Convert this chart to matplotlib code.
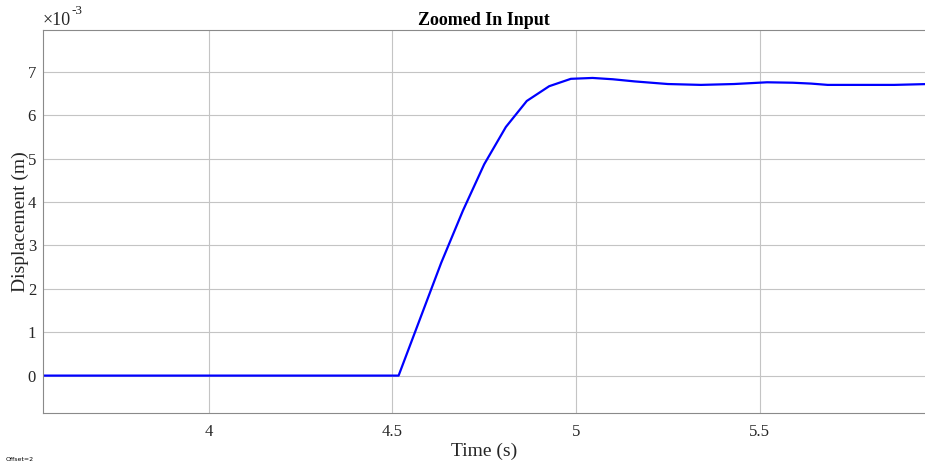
import matplotlib
matplotlib.use("Agg")
import matplotlib.pyplot as plt

time_s = [3.50, 4.517, 4.575, 4.633, 4.692, 4.750, 4.809, 4.866, 4.927, 4.986,
          5.045, 5.10, 5.16, 5.25, 5.34, 5.43, 5.52, 5.59, 5.64, 5.685,
          5.775, 5.866, 5.96]
disp_e3 = [0.0, 0.0, 1.3, 2.6, 3.8, 4.87, 5.73, 6.33, 6.67, 6.84,
           6.86, 6.83, 6.78, 6.72, 6.70, 6.72, 6.76, 6.75, 6.73, 6.70,
           6.70, 6.70, 6.72]
xticks = [4, 4.5, 5, 5.5]
xtick_labels = ["4", "4.5", "5", "5.5"]
yticks = [0, 1, 2, 3, 4, 5, 6, 7]
ytick_labels = ["0", "1", "2", "3", "4", "5", "6", "7"]

plt.rcParams['font.family'] = ['Liberation Serif', 'DejaVu Serif']

fig = plt.figure(figsize=(9.25, 4.65), dpi=100)
ax = fig.add_axes([0.0465, 0.112, 0.9535, 0.823])
ax.plot(time_s, disp_e3, color='#0000ff', lw=1.6)
ax.set_xlim(3.549, 5.95)
ax.set_ylim(-0.86, 7.96)
ax.set_xticks(xticks)
ax.set_xticklabels(xtick_labels)
ax.set_yticks(yticks)
ax.set_yticklabels(ytick_labels)
ax.grid(True, color='#c4c4c4', lw=0.8)
ax.set_axisbelow(True)
for s in ax.spines.values():
    s.set_color('#8a8a8a')
    s.set_linewidth(0.8)
ax.spines['right'].set_visible(False)
ax.tick_params(direction='in', length=0, labelsize=12, colors='#262626')
ax.tick_params(axis='y', pad=5)
ax.tick_params(axis='x', pad=8)
ax.set_xlabel('Time (s)', fontsize=14, color='#262626', labelpad=2)
ax.set_ylabel('Displacement (m)', fontsize=14, color='#262626', labelpad=-1)
ax.set_title('Zoomed In Input', fontsize=13, fontweight='bold', pad=4)
fig.text(43 / 925, 1 - 25 / 465, '\u00d710', fontsize=13,
         ha='left', va='baseline', color='#262626')
fig.text(72 / 925, 1 - 14 / 465, '-3', fontsize=9.5,
         ha='left', va='baseline', color='#262626')
fig.text(0.006, 0.008, 'Offset=2', fontsize=4.5, family='DejaVu Sans')
fig.savefig('out.png', dpi=100)
